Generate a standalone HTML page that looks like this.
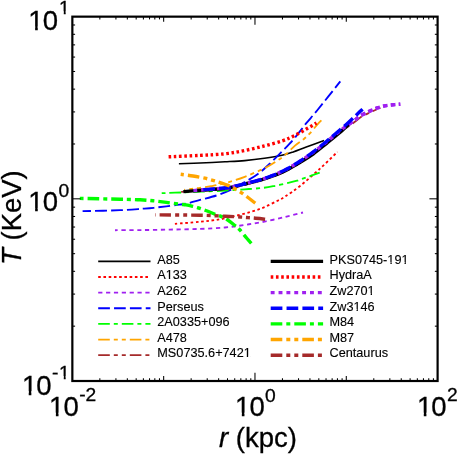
<!DOCTYPE html>
<html><head><meta charset="utf-8"><title>T(r)</title>
<style>html,body{margin:0;padding:0;background:#fff}svg{display:block;will-change:transform}text{font-family:"Liberation Sans",sans-serif;fill:#000;stroke:#000;stroke-width:.3px}.lg{stroke-width:.12px}</style></head><body>
<svg width="458" height="456" viewBox="0 0 458 456">
<rect x="0" y="0" width="458" height="456" fill="#fff"/>
<g fill="none" stroke-linecap="butt" stroke-linejoin="round">
<path d="M178.90,163.70 C182.42,163.58 192.32,163.32 200.00,163.00 C207.68,162.68 217.55,162.20 225.00,161.80 C232.45,161.40 238.12,161.18 244.70,160.60 C251.28,160.02 258.28,159.18 264.50,158.30 C270.72,157.42 277.22,156.35 282.00,155.30 C286.78,154.25 289.15,153.38 293.20,152.00 C297.25,150.62 301.15,148.92 306.30,147.00 C311.45,145.08 321.13,141.58 324.10,140.50" stroke="#000000" stroke-width="1.60"/>
<path d="M174.90,223.80 C179.08,223.47 192.48,222.55 200.00,221.80 C207.52,221.05 214.08,220.28 220.00,219.30 C225.92,218.32 230.28,217.17 235.50,215.90 C240.72,214.63 246.47,213.17 251.30,211.70 C256.13,210.23 260.12,208.93 264.50,207.10 C268.88,205.27 274.18,202.45 277.60,200.70 C281.02,198.95 281.27,199.05 285.00,196.60 C288.73,194.15 294.03,190.78 300.00,186.00 C305.97,181.22 314.55,173.60 320.80,167.90 C327.05,162.20 334.72,154.48 337.50,151.80" stroke="#ff0000" stroke-width="1.85" stroke-dasharray="2.60,2.64"/>
<path d="M115.00,230.20 C119.17,230.18 130.83,230.20 140.00,230.10 C149.17,230.00 160.00,229.80 170.00,229.60 C180.00,229.40 190.83,229.25 200.00,228.90 C209.17,228.55 217.55,228.17 225.00,227.50 C232.45,226.83 238.12,225.88 244.70,224.90 C251.28,223.92 257.78,222.92 264.50,221.60 C271.22,220.28 278.58,218.52 285.00,217.00 C291.42,215.48 300.00,213.25 303.00,212.50" stroke="#a020f0" stroke-width="1.85" stroke-dasharray="4.20,3.66" stroke-dashoffset="1.30"/>
<path d="M82.60,211.20 C88.83,211.03 110.00,210.62 120.00,210.20 C130.00,209.78 136.97,209.10 142.60,208.70 C148.23,208.30 149.85,208.20 153.80,207.80 C157.75,207.40 162.02,206.82 166.30,206.30 C170.58,205.78 175.85,205.22 179.50,204.70 C183.15,204.18 184.78,204.00 188.20,203.20 C191.62,202.40 195.30,201.18 200.00,199.90 C204.70,198.62 211.13,197.23 216.40,195.50 C221.67,193.77 226.88,191.73 231.60,189.50 C236.32,187.27 240.32,184.68 244.70,182.10 C249.08,179.52 253.52,177.27 257.90,174.00 C262.28,170.73 266.88,166.35 271.00,162.50 C275.12,158.65 278.68,154.95 282.60,150.90 C286.52,146.85 290.55,142.82 294.50,138.20 C298.45,133.58 302.47,127.90 306.30,123.20 C310.13,118.50 311.83,116.97 317.50,110.00 C323.17,103.03 336.50,86.17 340.30,81.40" stroke="#0000ff" stroke-width="1.85" stroke-dasharray="11.70,4.15" stroke-dashoffset="3.20"/>
<path d="M161.70,193.20 C163.92,193.12 168.62,192.95 175.00,192.70 C181.38,192.45 191.67,192.05 200.00,191.70 C208.33,191.35 217.55,191.00 225.00,190.60 C232.45,190.20 238.38,189.75 244.70,189.30 C251.02,188.85 257.82,188.48 262.90,187.90 C267.98,187.32 270.97,186.63 275.20,185.80 C279.43,184.97 284.65,183.77 288.30,182.90 C291.95,182.03 294.82,181.27 297.10,180.60 C299.38,179.93 298.23,180.22 302.00,178.90 C305.77,177.58 316.75,173.73 319.70,172.70" stroke="#00ff00" stroke-width="1.85" stroke-dasharray="11.60,4.00,4.00,4.00" stroke-dashoffset="15.70"/>
<path d="M184.20,189.80 C185.45,189.63 189.07,189.12 191.70,188.80 C194.33,188.48 196.78,188.35 200.00,187.90 C203.22,187.45 208.17,186.58 211.00,186.10 C213.83,185.62 214.00,185.67 217.00,185.00 C220.00,184.33 224.38,183.47 229.00,182.10 C233.62,180.73 238.78,179.10 244.70,176.80 C250.62,174.50 259.02,171.02 264.50,168.30 C269.98,165.58 274.13,162.75 277.60,160.50 C281.07,158.25 282.40,157.28 285.30,154.80 C288.20,152.32 291.93,148.20 295.00,145.60 C298.07,143.00 301.27,141.18 303.70,139.20 C306.13,137.22 307.30,136.17 309.60,133.70 C311.90,131.23 315.53,126.63 317.50,124.40 C319.47,122.17 320.75,120.98 321.40,120.30" stroke="#ffa500" stroke-width="1.85" stroke-dasharray="11.60,4.00,4.00,4.00,4.00,4.00" stroke-dashoffset="10.50"/>
<path d="M180.20,191.90 C187.67,191.42 215.33,189.90 225.00,189.00 C234.67,188.10 233.82,187.50 238.20,186.50 C242.58,185.50 247.33,184.08 251.30,183.00 C255.27,181.92 258.75,180.97 262.00,180.00 C265.25,179.03 267.88,178.20 270.80,177.20 C273.72,176.20 276.58,175.23 279.50,174.00 C282.42,172.77 285.37,171.35 288.30,169.80 C291.23,168.25 294.82,166.07 297.10,164.70 C299.38,163.33 299.37,163.38 302.00,161.60 C304.63,159.82 308.88,157.02 312.90,154.00 C316.92,150.98 321.42,147.20 326.10,143.50 C330.78,139.80 338.13,134.08 341.00,131.80 C343.87,129.52 340.88,131.55 343.30,129.80 C345.72,128.05 352.60,123.40 355.50,121.30 C358.40,119.20 358.38,118.65 360.70,117.20 C363.02,115.75 366.52,113.98 369.40,112.60 C372.28,111.22 376.15,109.67 378.00,108.90 C379.85,108.13 380.08,108.15 380.50,108.00" stroke="#a52a2a" stroke-width="1.85" stroke-dasharray="11.60,4.00,4.00,4.00,4.00,4.00" stroke-dashoffset="30.50"/>
<path d="M183.40,191.60 C190.33,191.03 215.87,189.20 225.00,188.20 C234.13,187.20 233.82,186.57 238.20,185.60 C242.58,184.63 247.33,183.40 251.30,182.40 C255.27,181.40 258.75,180.55 262.00,179.60 C265.25,178.65 267.88,177.73 270.80,176.70 C273.72,175.67 276.58,174.65 279.50,173.40 C282.42,172.15 285.37,170.73 288.30,169.20 C291.23,167.67 294.82,165.53 297.10,164.20 C299.38,162.87 299.28,162.93 302.00,161.20 C304.72,159.47 309.30,156.78 313.40,153.80 C317.50,150.82 322.08,146.93 326.60,143.30 C331.12,139.67 336.38,135.55 340.50,132.00 C344.62,128.45 349.50,123.67 351.30,122.00" stroke="#000000" stroke-width="3.40"/>
<path d="M168.60,156.80 C173.83,156.57 190.60,155.90 200.00,155.40 C209.40,154.90 217.55,154.62 225.00,153.80 C232.45,152.98 238.12,151.82 244.70,150.50 C251.28,149.18 258.28,147.48 264.50,145.90 C270.72,144.32 277.22,142.60 282.00,141.00 C286.78,139.40 289.15,138.28 293.20,136.30 C297.25,134.32 302.42,131.32 306.30,129.10 C310.18,126.88 314.80,124.02 316.50,123.00" stroke="#ff0000" stroke-width="3.40" stroke-dasharray="2.60,2.64"/>
<path d="M193.40,190.60 C198.67,190.17 217.53,188.87 225.00,188.00 C232.47,187.13 233.82,186.38 238.20,185.40 C242.58,184.42 247.33,183.13 251.30,182.10 C255.27,181.07 258.75,180.20 262.00,179.20 C265.25,178.20 267.88,177.20 270.80,176.10 C273.72,175.00 276.58,173.92 279.50,172.60 C282.42,171.28 285.37,169.80 288.30,168.20 C291.23,166.60 294.82,164.38 297.10,163.00 C299.38,161.62 299.33,161.67 302.00,159.90 C304.67,158.13 309.05,155.37 313.10,152.40 C317.15,149.43 321.40,146.03 326.30,142.10 C331.20,138.17 337.77,132.45 342.50,128.80 C347.23,125.15 351.80,122.32 354.70,120.20 C357.60,118.08 357.57,117.53 359.90,116.10 C362.23,114.67 365.78,112.97 368.70,111.60 C371.62,110.23 374.50,108.90 377.40,107.90 C380.30,106.90 383.18,106.15 386.10,105.60 C389.02,105.05 392.53,104.83 394.90,104.60 C397.27,104.37 399.40,104.27 400.30,104.20" stroke="#a020f0" stroke-width="3.40" stroke-dasharray="3.90,3.96"/>
<clipPath id="cz"><rect x="349" y="90" width="70" height="42"/></clipPath>
<path d="M193.40,190.60 C198.67,190.17 217.53,188.87 225.00,188.00 C232.47,187.13 233.82,186.38 238.20,185.40 C242.58,184.42 247.33,183.13 251.30,182.10 C255.27,181.07 258.75,180.20 262.00,179.20 C265.25,178.20 267.88,177.20 270.80,176.10 C273.72,175.00 276.58,173.92 279.50,172.60 C282.42,171.28 285.37,169.80 288.30,168.20 C291.23,166.60 294.82,164.38 297.10,163.00 C299.38,161.62 299.33,161.67 302.00,159.90 C304.67,158.13 309.05,155.37 313.10,152.40 C317.15,149.43 321.40,146.03 326.30,142.10 C331.20,138.17 337.77,132.45 342.50,128.80 C347.23,125.15 351.80,122.32 354.70,120.20 C357.60,118.08 357.57,117.53 359.90,116.10 C362.23,114.67 365.78,112.97 368.70,111.60 C371.62,110.23 374.50,108.90 377.40,107.90 C380.30,106.90 383.18,106.15 386.10,105.60 C389.02,105.05 392.53,104.83 394.90,104.60 C397.27,104.37 399.40,104.27 400.30,104.20" stroke="#a020f0" stroke-width="3.40" stroke-dasharray="4.65,3.21" clip-path="url(#cz)"/>
<path d="M203.30,189.60 C206.92,189.33 219.18,188.70 225.00,188.00 C230.82,187.30 233.82,186.38 238.20,185.40 C242.58,184.42 247.33,183.13 251.30,182.10 C255.27,181.07 258.75,180.20 262.00,179.20 C265.25,178.20 267.88,177.20 270.80,176.10 C273.72,175.00 276.58,173.92 279.50,172.60 C282.42,171.28 285.37,169.80 288.30,168.20 C291.23,166.60 294.82,164.40 297.10,163.00 C299.38,161.60 299.37,161.62 302.00,159.80 C304.63,157.98 308.88,155.10 312.90,152.10 C316.92,149.10 322.33,144.85 326.10,141.80 C329.87,138.75 332.18,136.63 335.50,133.80 C338.82,130.97 342.22,128.23 346.00,124.80 C349.78,121.37 355.43,115.78 358.20,113.20 C360.97,110.62 361.87,109.95 362.60,109.30" stroke="#0000ff" stroke-width="3.40" stroke-dasharray="11.70,4.15"/>
<path d="M79.80,198.40 C86.50,198.53 109.97,198.97 120.00,199.20 C130.03,199.43 134.47,199.53 140.00,199.80 C145.53,200.07 148.82,200.37 153.20,200.80 C157.58,201.23 161.92,201.83 166.30,202.40 C170.68,202.97 176.22,203.78 179.50,204.20 C182.78,204.62 183.82,204.55 186.00,204.90 C188.18,205.25 190.48,205.78 192.60,206.30 C194.72,206.82 196.70,207.38 198.70,208.00 C200.70,208.62 201.97,209.00 204.60,210.00 C207.23,211.00 211.10,212.62 214.50,214.00 C217.90,215.38 221.60,216.38 225.00,218.30 C228.40,220.22 232.48,223.63 234.90,225.50 C237.32,227.37 237.48,227.33 239.50,229.50 C241.52,231.67 245.03,236.20 247.00,238.50 C248.97,240.80 250.58,242.50 251.30,243.30" stroke="#00ff00" stroke-width="3.40" stroke-dasharray="11.60,4.00,4.00,4.00" stroke-dashoffset="15.80"/>
<path d="M180.70,174.30 C182.75,174.58 188.95,175.35 193.00,176.00 C197.05,176.65 201.70,177.48 205.00,178.20 C208.30,178.92 210.57,179.67 212.80,180.30 C215.03,180.93 216.48,181.38 218.40,182.00 C220.32,182.62 222.22,183.25 224.30,184.00 C226.38,184.75 228.95,185.58 230.90,186.50 C232.85,187.42 234.23,188.45 236.00,189.50 C237.77,190.55 239.50,191.47 241.50,192.80 C243.50,194.13 245.70,195.77 248.00,197.50 C250.30,199.23 254.08,202.25 255.30,203.20" stroke="#ffa500" stroke-width="3.40" stroke-dasharray="11.60,4.00,4.00,4.00,4.00,4.00" stroke-dashoffset="24.40"/>
<path d="M155.10,214.90 C162.58,214.95 188.35,214.98 200.00,215.20 C211.65,215.42 218.33,215.90 225.00,216.20 C231.67,216.50 236.17,216.77 240.00,217.00 C243.83,217.23 245.67,217.43 248.00,217.60 C250.33,217.77 251.15,217.73 254.00,218.00 C256.85,218.27 263.25,219.00 265.10,219.20" stroke="#a52a2a" stroke-width="3.40" stroke-dasharray="11.50,4.00,3.95,4.00,3.95,4.00" stroke-dashoffset="26.80"/>
</g>
<g stroke="#000" stroke-width="1.05">
<line x1="99.84" y1="381.00" x2="99.84" y2="378.25"/>
<line x1="99.84" y1="16.65" x2="99.84" y2="19.40"/>
<line x1="115.92" y1="381.00" x2="115.92" y2="378.25"/>
<line x1="115.92" y1="16.65" x2="115.92" y2="19.40"/>
<line x1="127.33" y1="381.00" x2="127.33" y2="378.25"/>
<line x1="127.33" y1="16.65" x2="127.33" y2="19.40"/>
<line x1="136.17" y1="381.00" x2="136.17" y2="378.25"/>
<line x1="136.17" y1="16.65" x2="136.17" y2="19.40"/>
<line x1="143.40" y1="381.00" x2="143.40" y2="378.25"/>
<line x1="143.40" y1="16.65" x2="143.40" y2="19.40"/>
<line x1="149.52" y1="381.00" x2="149.52" y2="378.25"/>
<line x1="149.52" y1="16.65" x2="149.52" y2="19.40"/>
<line x1="154.81" y1="381.00" x2="154.81" y2="378.25"/>
<line x1="154.81" y1="16.65" x2="154.81" y2="19.40"/>
<line x1="159.48" y1="381.00" x2="159.48" y2="378.25"/>
<line x1="159.48" y1="16.65" x2="159.48" y2="19.40"/>
<line x1="163.66" y1="381.00" x2="163.66" y2="376.00"/>
<line x1="163.66" y1="16.65" x2="163.66" y2="21.65"/>
<line x1="191.15" y1="381.00" x2="191.15" y2="378.25"/>
<line x1="191.15" y1="16.65" x2="191.15" y2="19.40"/>
<line x1="207.23" y1="381.00" x2="207.23" y2="378.25"/>
<line x1="207.23" y1="16.65" x2="207.23" y2="19.40"/>
<line x1="218.64" y1="381.00" x2="218.64" y2="378.25"/>
<line x1="218.64" y1="16.65" x2="218.64" y2="19.40"/>
<line x1="227.49" y1="381.00" x2="227.49" y2="378.25"/>
<line x1="227.49" y1="16.65" x2="227.49" y2="19.40"/>
<line x1="234.72" y1="381.00" x2="234.72" y2="378.25"/>
<line x1="234.72" y1="16.65" x2="234.72" y2="19.40"/>
<line x1="240.83" y1="381.00" x2="240.83" y2="378.25"/>
<line x1="240.83" y1="16.65" x2="240.83" y2="19.40"/>
<line x1="246.13" y1="381.00" x2="246.13" y2="378.25"/>
<line x1="246.13" y1="16.65" x2="246.13" y2="19.40"/>
<line x1="250.80" y1="381.00" x2="250.80" y2="378.25"/>
<line x1="250.80" y1="16.65" x2="250.80" y2="19.40"/>
<line x1="254.97" y1="381.00" x2="254.97" y2="372.80"/>
<line x1="254.97" y1="16.65" x2="254.97" y2="24.85"/>
<line x1="282.46" y1="381.00" x2="282.46" y2="378.25"/>
<line x1="282.46" y1="16.65" x2="282.46" y2="19.40"/>
<line x1="298.54" y1="381.00" x2="298.54" y2="378.25"/>
<line x1="298.54" y1="16.65" x2="298.54" y2="19.40"/>
<line x1="309.95" y1="381.00" x2="309.95" y2="378.25"/>
<line x1="309.95" y1="16.65" x2="309.95" y2="19.40"/>
<line x1="318.80" y1="381.00" x2="318.80" y2="378.25"/>
<line x1="318.80" y1="16.65" x2="318.80" y2="19.40"/>
<line x1="326.03" y1="381.00" x2="326.03" y2="378.25"/>
<line x1="326.03" y1="16.65" x2="326.03" y2="19.40"/>
<line x1="332.14" y1="381.00" x2="332.14" y2="378.25"/>
<line x1="332.14" y1="16.65" x2="332.14" y2="19.40"/>
<line x1="337.44" y1="381.00" x2="337.44" y2="378.25"/>
<line x1="337.44" y1="16.65" x2="337.44" y2="19.40"/>
<line x1="342.11" y1="381.00" x2="342.11" y2="378.25"/>
<line x1="342.11" y1="16.65" x2="342.11" y2="19.40"/>
<line x1="346.29" y1="381.00" x2="346.29" y2="376.00"/>
<line x1="346.29" y1="16.65" x2="346.29" y2="21.65"/>
<line x1="373.78" y1="381.00" x2="373.78" y2="378.25"/>
<line x1="373.78" y1="16.65" x2="373.78" y2="19.40"/>
<line x1="389.85" y1="381.00" x2="389.85" y2="378.25"/>
<line x1="389.85" y1="16.65" x2="389.85" y2="19.40"/>
<line x1="401.26" y1="381.00" x2="401.26" y2="378.25"/>
<line x1="401.26" y1="16.65" x2="401.26" y2="19.40"/>
<line x1="410.11" y1="381.00" x2="410.11" y2="378.25"/>
<line x1="410.11" y1="16.65" x2="410.11" y2="19.40"/>
<line x1="417.34" y1="381.00" x2="417.34" y2="378.25"/>
<line x1="417.34" y1="16.65" x2="417.34" y2="19.40"/>
<line x1="423.46" y1="381.00" x2="423.46" y2="378.25"/>
<line x1="423.46" y1="16.65" x2="423.46" y2="19.40"/>
<line x1="428.75" y1="381.00" x2="428.75" y2="378.25"/>
<line x1="428.75" y1="16.65" x2="428.75" y2="19.40"/>
<line x1="433.42" y1="381.00" x2="433.42" y2="378.25"/>
<line x1="433.42" y1="16.65" x2="433.42" y2="19.40"/>
<line x1="72.35" y1="326.16" x2="75.10" y2="326.16"/>
<line x1="437.60" y1="326.16" x2="434.85" y2="326.16"/>
<line x1="72.35" y1="294.08" x2="75.10" y2="294.08"/>
<line x1="437.60" y1="294.08" x2="434.85" y2="294.08"/>
<line x1="72.35" y1="271.32" x2="75.10" y2="271.32"/>
<line x1="437.60" y1="271.32" x2="434.85" y2="271.32"/>
<line x1="72.35" y1="253.67" x2="75.10" y2="253.67"/>
<line x1="437.60" y1="253.67" x2="434.85" y2="253.67"/>
<line x1="72.35" y1="239.24" x2="75.10" y2="239.24"/>
<line x1="437.60" y1="239.24" x2="434.85" y2="239.24"/>
<line x1="72.35" y1="227.04" x2="75.10" y2="227.04"/>
<line x1="437.60" y1="227.04" x2="434.85" y2="227.04"/>
<line x1="72.35" y1="216.48" x2="75.10" y2="216.48"/>
<line x1="437.60" y1="216.48" x2="434.85" y2="216.48"/>
<line x1="72.35" y1="207.16" x2="75.10" y2="207.16"/>
<line x1="437.60" y1="207.16" x2="434.85" y2="207.16"/>
<line x1="72.35" y1="198.82" x2="80.55" y2="198.82"/>
<line x1="437.60" y1="198.82" x2="429.40" y2="198.82"/>
<line x1="72.35" y1="143.98" x2="75.10" y2="143.98"/>
<line x1="437.60" y1="143.98" x2="434.85" y2="143.98"/>
<line x1="72.35" y1="111.91" x2="75.10" y2="111.91"/>
<line x1="437.60" y1="111.91" x2="434.85" y2="111.91"/>
<line x1="72.35" y1="89.14" x2="75.10" y2="89.14"/>
<line x1="437.60" y1="89.14" x2="434.85" y2="89.14"/>
<line x1="72.35" y1="71.49" x2="75.10" y2="71.49"/>
<line x1="437.60" y1="71.49" x2="434.85" y2="71.49"/>
<line x1="72.35" y1="57.07" x2="75.10" y2="57.07"/>
<line x1="437.60" y1="57.07" x2="434.85" y2="57.07"/>
<line x1="72.35" y1="44.87" x2="75.10" y2="44.87"/>
<line x1="437.60" y1="44.87" x2="434.85" y2="44.87"/>
<line x1="72.35" y1="34.30" x2="75.10" y2="34.30"/>
<line x1="437.60" y1="34.30" x2="434.85" y2="34.30"/>
<line x1="72.35" y1="24.99" x2="75.10" y2="24.99"/>
<line x1="437.60" y1="24.99" x2="434.85" y2="24.99"/>
</g>
<rect x="72.35" y="16.65" width="365.25" height="364.35" fill="none" stroke="#000" stroke-width="2.20"/>
<text font-size="27.50"><tspan x="28.32" y="29.60">1</tspan><tspan x="42.70" y="29.60">0</tspan><tspan x="59.03" y="14.10" font-size="19.25">1</tspan></text>
<text font-size="27.50"><tspan x="28.32" y="211.40">1</tspan><tspan x="42.70" y="211.40">0</tspan><tspan x="58.39" y="197.10" font-size="19.25">0</tspan></text>
<text font-size="27.50"><tspan x="21.91" y="394.50">1</tspan><tspan x="36.29" y="394.50">0</tspan><tspan x="51.98" y="378.90" font-size="19.25">-</tspan><tspan x="59.03" y="378.90" font-size="19.25">1</tspan></text>
<text font-size="27.50"><tspan x="49.06" y="416.00">1</tspan><tspan x="63.44" y="416.00">0</tspan><tspan x="79.14" y="400.80" font-size="19.25">-</tspan><tspan x="85.55" y="400.80" font-size="19.25">2</tspan></text>
<text font-size="27.50"><tspan x="235.02" y="416.00">1</tspan><tspan x="249.40" y="416.00">0</tspan><tspan x="265.09" y="401.60" font-size="19.25">0</tspan></text>
<text font-size="27.50"><tspan x="416.97" y="416.00">1</tspan><tspan x="431.35" y="416.00">0</tspan><tspan x="447.04" y="401.10" font-size="19.25">2</tspan></text>
<g fill="#fff">
<rect x="29.21" y="26.25" width="5.92" height="5.55"/>
<rect x="37.76" y="26.25" width="5.81" height="5.55"/>
<rect x="59.30" y="11.36" width="4.47" height="4.94"/>
<rect x="65.68" y="11.36" width="4.42" height="4.94"/>
<rect x="29.21" y="208.05" width="5.92" height="5.55"/>
<rect x="37.76" y="208.05" width="5.81" height="5.55"/>
<rect x="22.80" y="391.15" width="5.92" height="5.55"/>
<rect x="31.35" y="391.15" width="5.81" height="5.55"/>
<rect x="59.30" y="376.16" width="4.47" height="4.94"/>
<rect x="65.68" y="376.16" width="4.42" height="4.94"/>
<rect x="49.96" y="412.65" width="5.92" height="5.55"/>
<rect x="58.51" y="412.65" width="5.81" height="5.55"/>
<rect x="235.91" y="412.65" width="5.92" height="5.55"/>
<rect x="244.46" y="412.65" width="5.81" height="5.55"/>
<rect x="417.86" y="412.65" width="5.92" height="5.55"/>
<rect x="426.41" y="412.65" width="5.81" height="5.55"/>
</g>
<text x="258" y="446.8" font-size="27.50" text-anchor="middle"><tspan font-style="italic">r</tspan> (kpc)</text>
<text transform="translate(21,217.6) rotate(-90)" font-size="27.50" text-anchor="middle"><tspan font-style="italic">T</tspan> (KeV)</text>
<g fill="none" stroke-linecap="butt">
<line x1="98.20" y1="261.40" x2="150.50" y2="261.40" stroke="#000000" stroke-width="1.60"/>
<line x1="98.20" y1="277.03" x2="150.50" y2="277.03" stroke="#ff0000" stroke-width="1.85" stroke-dasharray="2.60,2.64"/>
<line x1="98.20" y1="292.66" x2="150.50" y2="292.66" stroke="#a020f0" stroke-width="1.85" stroke-dasharray="4.20,3.66"/>
<line x1="98.20" y1="308.29" x2="150.50" y2="308.29" stroke="#0000ff" stroke-width="1.85" stroke-dasharray="11.70,4.15"/>
<line x1="98.20" y1="323.92" x2="150.50" y2="323.92" stroke="#00ff00" stroke-width="1.85" stroke-dasharray="11.60,4.00,4.00,4.00"/>
<line x1="98.20" y1="339.55" x2="150.50" y2="339.55" stroke="#ffa500" stroke-width="1.85" stroke-dasharray="11.60,4.00,4.00,4.00,4.00,4.00"/>
<line x1="98.20" y1="355.18" x2="150.50" y2="355.18" stroke="#a52a2a" stroke-width="1.85" stroke-dasharray="11.60,4.00,4.00,4.00,4.00,4.00"/>
<line x1="270.70" y1="261.40" x2="323.10" y2="261.40" stroke="#000000" stroke-width="3.40"/>
<line x1="270.70" y1="277.03" x2="323.10" y2="277.03" stroke="#ff0000" stroke-width="3.40" stroke-dasharray="2.60,2.64"/>
<line x1="270.70" y1="292.66" x2="323.10" y2="292.66" stroke="#a020f0" stroke-width="3.40" stroke-dasharray="3.90,3.96"/>
<line x1="270.70" y1="308.29" x2="323.10" y2="308.29" stroke="#0000ff" stroke-width="3.40" stroke-dasharray="11.70,4.15"/>
<line x1="270.70" y1="323.92" x2="323.10" y2="323.92" stroke="#00ff00" stroke-width="3.40" stroke-dasharray="11.60,4.00,4.00,4.00"/>
<line x1="270.70" y1="339.55" x2="323.10" y2="339.55" stroke="#ffa500" stroke-width="3.40" stroke-dasharray="11.60,4.00,4.00,4.00,4.00,4.00"/>
<line x1="270.70" y1="355.18" x2="323.10" y2="355.18" stroke="#a52a2a" stroke-width="3.40" stroke-dasharray="11.60,4.00,4.00,4.00,4.00,4.00"/>
</g>
<text class="lg" x="157.30" y="263.70" font-size="12.70">A85</text>
<text class="lg" x="157.30" y="279.33" font-size="12.70">A133</text>
<text class="lg" x="157.30" y="294.96" font-size="12.70">A262</text>
<text class="lg" x="157.30" y="310.59" font-size="12.70">Perseus</text>
<text class="lg" x="157.30" y="326.22" font-size="12.70">2A0335+096</text>
<text class="lg" x="157.30" y="341.85" font-size="12.70">A478</text>
<text class="lg" x="157.30" y="357.48" font-size="12.70">MS0735.6+7421</text>
<text class="lg" x="329.50" y="263.70" font-size="12.70">PKS0745-191</text>
<text class="lg" x="329.50" y="279.33" font-size="12.70">HydraA</text>
<text class="lg" x="329.50" y="294.96" font-size="12.70">Zw2701</text>
<text class="lg" x="329.50" y="310.59" font-size="12.70">Zw3146</text>
<text class="lg" x="329.50" y="326.22" font-size="12.70">M84</text>
<text class="lg" x="329.50" y="341.85" font-size="12.70">M87</text>
<text class="lg" x="329.50" y="357.48" font-size="12.70">Centaurus</text>
<g fill="#fff">
<rect x="166.12" y="277.68" width="2.73" height="3.15"/>
<rect x="170.17" y="277.68" width="2.73" height="3.15"/>
<rect x="244.07" y="355.83" width="2.73" height="3.15"/>
<rect x="248.12" y="355.83" width="2.73" height="3.15"/>
<rect x="387.70" y="262.05" width="2.73" height="3.15"/>
<rect x="391.74" y="262.05" width="2.73" height="3.15"/>
<rect x="401.80" y="262.05" width="2.73" height="3.15"/>
<rect x="405.85" y="262.05" width="2.73" height="3.15"/>
<rect x="367.95" y="293.31" width="2.73" height="3.15"/>
<rect x="371.99" y="293.31" width="2.73" height="3.15"/>
<rect x="353.82" y="308.94" width="2.73" height="3.15"/>
<rect x="357.87" y="308.94" width="2.73" height="3.15"/>
</g>
</svg></body></html>
